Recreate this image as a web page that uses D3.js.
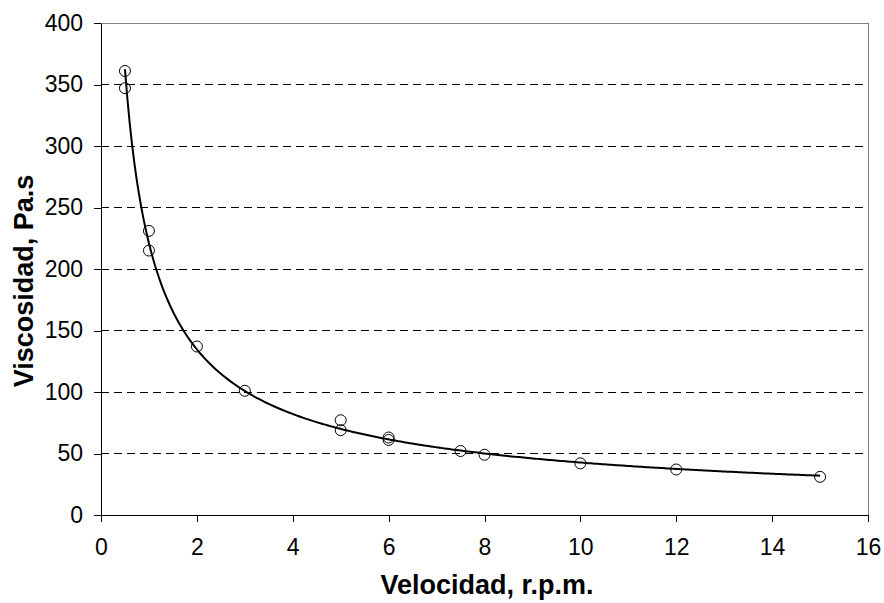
<!DOCTYPE html>
<html>
<head>
<meta charset="utf-8">
<script src="https://cdn.jsdelivr.net/npm/d3@7"></script>
<style>
  body { margin: 0; background: #fff; }
  text { font-family: Arial, "Liberation Sans", sans-serif; }
</style>
</head>
<body>
<div id="SVG_CONTAINER"></div>
<script>
// measured points (velocidad rpm, viscosidad Pa.s)
const velocidad  = [0.5, 0.5, 1, 1, 2, 3, 5, 5, 6, 6, 7.5, 8, 10, 12, 15];
const viscosidad = [361, 347, 231, 215, 137, 101, 77, 69, 63, 61, 52, 49, 42, 37, 31];
const xTicks = [0, 2, 4, 6, 8, 10, 12, 14, 16];
const yTicks = [0, 50, 100, 150, 200, 250, 300, 350, 400];

const width = 884, height = 603;
const margin = {top: 23, right: 16, bottom: 88, left: 101};
const iw = width - margin.left - margin.right,
      ih = height - margin.top - margin.bottom;

const svg = d3.select("#SVG_CONTAINER").append("svg")
    .attr("width", width).attr("height", height);
const g = svg.append("g")
    .attr("transform", "translate(" + margin.left + "," + margin.top + ")");

const x = d3.scaleLinear().domain([0, 16]).range([0, iw]);
const y = d3.scaleLinear().domain([0, 400]).range([ih, 0]);

// gridlines (dashed)
g.selectAll(".grid").data(yTicks.filter(t => t > 0 && t < 400)).enter()
    .append("line")
    .attr("x1", 0).attr("x2", iw)
    .attr("y1", d => y(d)).attr("y2", d => y(d))
    .attr("stroke", "#000").attr("stroke-width", 1)
    .attr("stroke-dasharray", "8,5")
    .attr("shape-rendering", "crispEdges");

// plot area border top/right in gray
g.append("line").attr("x1", 0).attr("x2", iw).attr("y1", 0).attr("y2", 0)
    .attr("stroke", "#808080").attr("shape-rendering", "crispEdges");
g.append("line").attr("x1", iw).attr("x2", iw).attr("y1", 0).attr("y2", ih)
    .attr("stroke", "#808080").attr("shape-rendering", "crispEdges");

// axes
const xAxis = g.append("g")
    .attr("transform", "translate(0," + ih + ")")
    .call(d3.axisBottom(x).tickValues(xTicks).tickSize(7).tickPadding(17).tickSizeOuter(0));
const yAxis = g.append("g")
    .call(d3.axisLeft(y).tickValues(yTicks).tickSize(7).tickPadding(11).tickSizeOuter(0));
[xAxis, yAxis].forEach(a => {
    a.selectAll("path, line").attr("stroke", "#000").attr("shape-rendering", "crispEdges");
    a.selectAll("text").attr("font-size", "23px").attr("fill", "#000")
        .style("font-family", "Arial, 'Liberation Sans', sans-serif");
});

// power trendline fitted from the data (least squares in log-log)
const lx = velocidad.map(Math.log), ly = viscosidad.map(Math.log);
const mx = d3.mean(lx), my = d3.mean(ly);
const b = d3.sum(lx, (v, i) => (v - mx) * (ly[i] - my)) / d3.sum(lx, v => (v - mx) * (v - mx));
const a = Math.exp(my - b * mx);
const xs = d3.range(0, 301).map(i => 0.5 + (15 - 0.5) * i / 300);
g.append("path")
    .datum(xs)
    .attr("fill", "none").attr("stroke", "#000").attr("stroke-width", 2)
    .attr("d", d3.line().x(d => x(d)).y(d => y(a * Math.pow(d, b))));

// data points
g.selectAll(".pt").data(velocidad).enter()
    .append("circle")
    .attr("cx", d => x(d))
    .attr("cy", (d, i) => y(viscosidad[i]))
    .attr("r", 5.5)
    .attr("fill", "none").attr("stroke", "#000").attr("stroke-width", 1);

// axis titles
svg.append("text")
    .attr("x", 487).attr("y", 594)
    .attr("text-anchor", "middle")
    .attr("font-size", "27px").attr("font-weight", "bold")
    .text("Velocidad, r.p.m.");
svg.append("text")
    .attr("transform", "translate(33,281) rotate(-90)")
    .attr("text-anchor", "middle")
    .attr("font-size", "27px").attr("font-weight", "bold")
    .text("Viscosidad, Pa.s");
</script>
</body>
</html>
